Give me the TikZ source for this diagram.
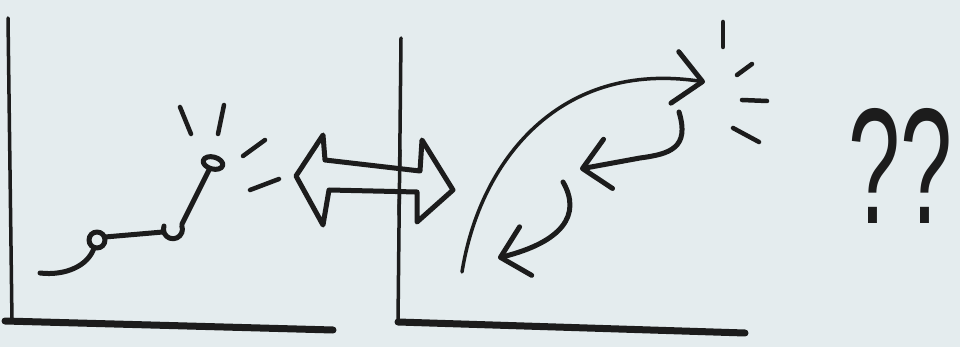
\documentclass[tikz,border=0pt]{standalone}
\usepackage{fontspec}
\setmainfont{Liberation Sans}
\usetikzlibrary{arrows.meta}
\definecolor{paper}{RGB}{228,236,238}
\definecolor{ink}{RGB}{28,28,28}

\begin{document}
\begin{tikzpicture}[x=1pt, y=-1pt, line cap=round, line join=round,
  axisline/.style={draw=ink, line width=7pt},
  pen/.style={draw=ink, line width=5pt},
  thinpen/.style={draw=ink, line width=3.5pt},
  ray/.style={draw=ink, line width=4.5pt},
  arrow/.style={pen, -{Straight Barb[length=26pt, width=50pt, round]}}]

\fill[paper] (0,0) rectangle (960,347);
\useasboundingbox (0,0) rectangle (960,347);

\coordinate (leftaxistop) at (8,18);
\coordinate (origin1) at (12,322);
\coordinate (leftaxisend) at (333,330);
\coordinate (midaxistop) at (401,38);
\coordinate (origin2) at (398,322);
\coordinate (rightaxisend) at (745,333);

\draw[thinpen] (leftaxistop) -- (origin1);
\draw[axisline] (5,321) -- (leftaxisend);
\draw[thinpen] (midaxistop) -- (origin2);
\draw[axisline] (origin2) -- (rightaxisend);

\draw[pen] (40,273) .. controls (65,276) and (88,266) .. (94,248);
\draw[pen] (97,240) circle[radius=8];
\draw[pen] (105,237) -- (163,232);
\draw[pen] (164,226) arc[start angle=200, end angle=-20, radius=9.5];
\draw[pen] (182,224) -- (209,170);
\draw[pen, rotate around={-15:(213,163)}] (213,163) ellipse[x radius=10, y radius=6];

\draw[ray] (180,107) -- (191,134);
\draw[ray] (224,105) -- (218,134);
\draw[ray] (243,156) -- (265,140);
\draw[ray] (250,190) -- (279,179);

\draw[pen, fill=paper] (296,176) -- (323,135) -- (325,160) -- (420,171)
  -- (422,140) -- (453,190) -- (417,222) -- (417,192) -- (329,190)
  -- (323,225) -- cycle;
\draw[thinpen] (400,150) -- (399,215);

\draw[thinpen, -{Straight Barb[length=28pt, width=52pt, round, line width=5pt]}]
  (462,272) .. controls (480,160) and (560,60) .. (705,82);
\draw[arrow] (679,112) .. controls (690,148) and (670,154) .. (640,158) -- (580,169);
\draw[arrow] (563,182) .. controls (582,215) and (562,242) .. (498,258);

\draw[ray] (723,22) -- (723,47);
\draw[ray] (737,75) -- (752,64);
\draw[ray] (742,100) -- (767,101);
\draw[ray] (733,128) -- (759,142);

\node[anchor=north west, inner sep=0, text=ink] (puzzled) at (848,108)
  {\resizebox{104pt}{115pt}{??}};
\end{tikzpicture}
\end{document}
